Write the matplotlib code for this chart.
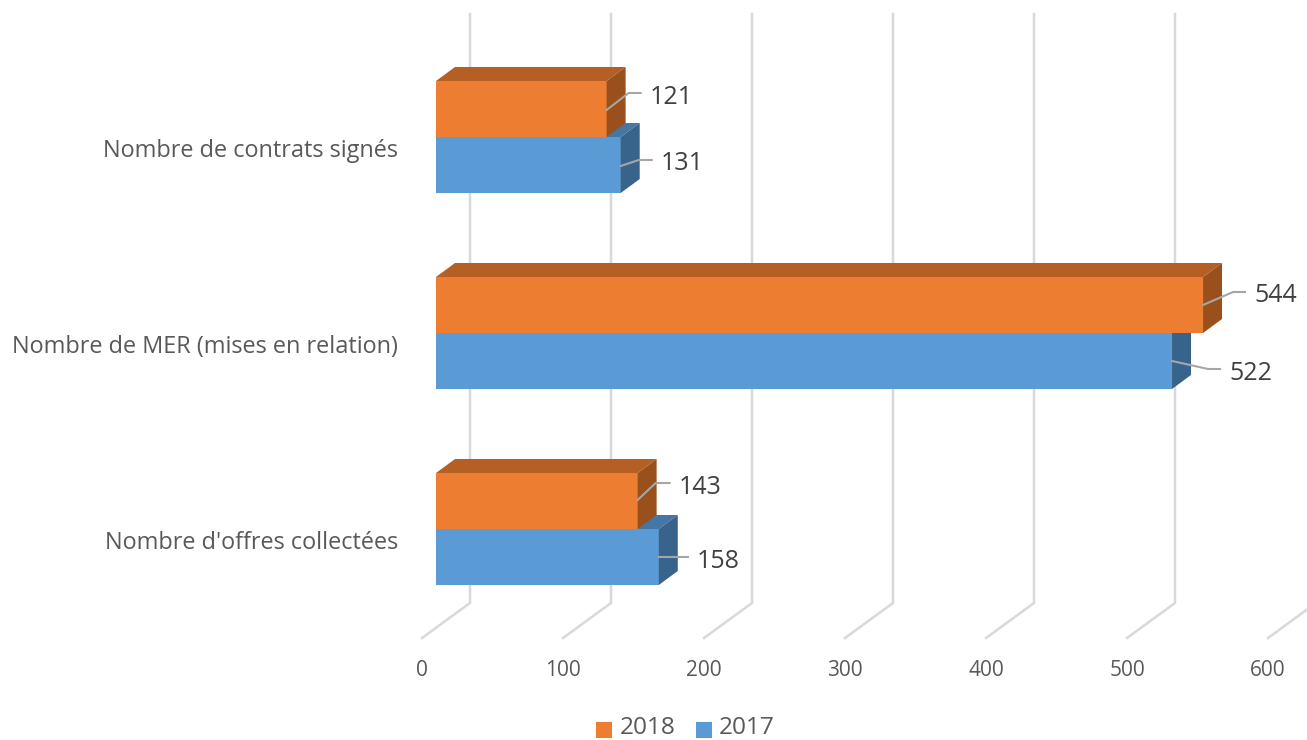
import matplotlib
matplotlib.use('Agg')
import matplotlib.pyplot as plt
from matplotlib.patches import Rectangle

plt.rcParams['font.family'] = ['Open Sans', 'DejaVu Sans']

# data
categories = ["Nombre d'offres collectées", 'Nombre de MER (mises en relation)', 'Nombre de contrats signés']
values_2017 = [158, 522, 131]
values_2018 = [143, 544, 121]
ticks = [0, 100, 200, 300, 400, 500, 600]

FACE_2018, TOP_2018, SIDE_2018 = '#ed7d31', '#b65f24', '#9a501d'
FACE_2017, TOP_2017, SIDE_2017 = '#5b9bd5', '#4676a3', '#38648c'

# 1 value unit = 1.41 px, 1 category = 196 px, figure is 1307x740 px
W, H = 1307, 740
PX_X = 1 / 1.41
PX_Y = 1 / 196
BAR_H = 56 * PX_Y
BAR_START = 14 * PX_X        # bars sit in the middle of the depth
DX, DY = 19 * PX_X, 14 * PX_Y    # bar depth
WALL_DX, WALL_DY = 48 * PX_X, 35 * PX_Y   # chart depth

fig = plt.figure(figsize=(W / 100, H / 100), dpi=100)
ax = fig.add_axes([0, 0, 1, 1])
ax.set_xlim(-422 * PX_X, (W - 422) * PX_X)
ax.set_ylim(-(H - 529) * PX_Y, 529 * PX_Y)
ax.axis('off')

floor_y = -(638 - 529) * PX_Y
wall_top = (529 - 14) * PX_Y


def bar_3d(v, y0, face, top, side):
    # y0 is the lower edge of the front face
    x0 = BAR_START
    x1 = BAR_START + v
    y1 = y0 + BAR_H
    ax.barh(y0, v, height=BAR_H, left=x0, align='edge', color=face, linewidth=0, zorder=3)
    ax.fill([x0, x1, x1 + DX, x0 + DX], [y1, y1, y1 + DY, y1 + DY], color=top, linewidth=0, zorder=3)
    ax.fill([x1, x1 + DX, x1 + DX, x1], [y0, y0 + DY, y1 + DY, y1], color=side, linewidth=0, zorder=3)


# gridlines: back wall + floor
for t in ticks:
    ax.plot([t, t + WALL_DX, t + WALL_DX], [floor_y, floor_y + WALL_DY, wall_top],
            color='#d9d9d9', lw=1.8, solid_joinstyle='miter', zorder=1)
    ax.text(t, -(670 - 529) * PX_Y, str(t), ha='center', va='center', fontsize=15, color='#595959')

for i, name in enumerate(categories):
    bar_3d(values_2017[i], i - BAR_H, FACE_2017, TOP_2017, SIDE_2017)
for i, name in enumerate(categories):
    bar_3d(values_2018[i], i, FACE_2018, TOP_2018, SIDE_2018)
    ax.text(BAR_START - 38 * PX_X, i - 14 * PX_Y, name, ha='right', va='center',
            fontsize=16.9, color='#595959')

# leader lines, px offsets from the bar end and bar lower edge
leaders_2018 = [(0, 29, 18, 46, 32), (0, 28, 30, 41, 42), (0, 27, 22, 44, 34)]
leaders_2017 = [(0, 28, 29, 28, 29), (0, 28, 36, 20, 48), (0, 27, 18, 33, 31)]

for values, base, leaders in [(values_2017, -BAR_H, leaders_2017), (values_2018, 0, leaders_2018)]:
    for i, v in enumerate(values):
        x_end = BAR_START + v
        y0 = i + base
        sx, sy, mx, my, ex = leaders[i]
        ax.plot([x_end, x_end + mx * PX_X, x_end + ex * PX_X],
                [y0 + sy * PX_Y, y0 + my * PX_Y, y0 + my * PX_Y],
                color='#a6a6a6', lw=1.5, zorder=4)
        ax.text(x_end + (ex + 9) * PX_X, y0 + (my - 4) * PX_Y, str(v), ha='left', va='center',
                fontsize=18, color='#404040', zorder=5)

# legend
leg_y = -(730 - 529) * PX_Y
for sq_x, txt_x, color, label in [(596, 620, FACE_2018, '2018'), (696, 719, FACE_2017, '2017')]:
    ax.add_patch(Rectangle(((sq_x - 422) * PX_X, leg_y - 8 * PX_Y), 16 * PX_X, 16 * PX_Y,
                           facecolor=color, linewidth=0, clip_on=False))
    # kept a touch high so the text box stays inside the figure
    ax.text((txt_x - 422) * PX_X, leg_y + 2 * PX_Y, label, ha='left', va='center', fontsize=17.6, color='#595959')

fig.savefig('out.png', dpi=100)
